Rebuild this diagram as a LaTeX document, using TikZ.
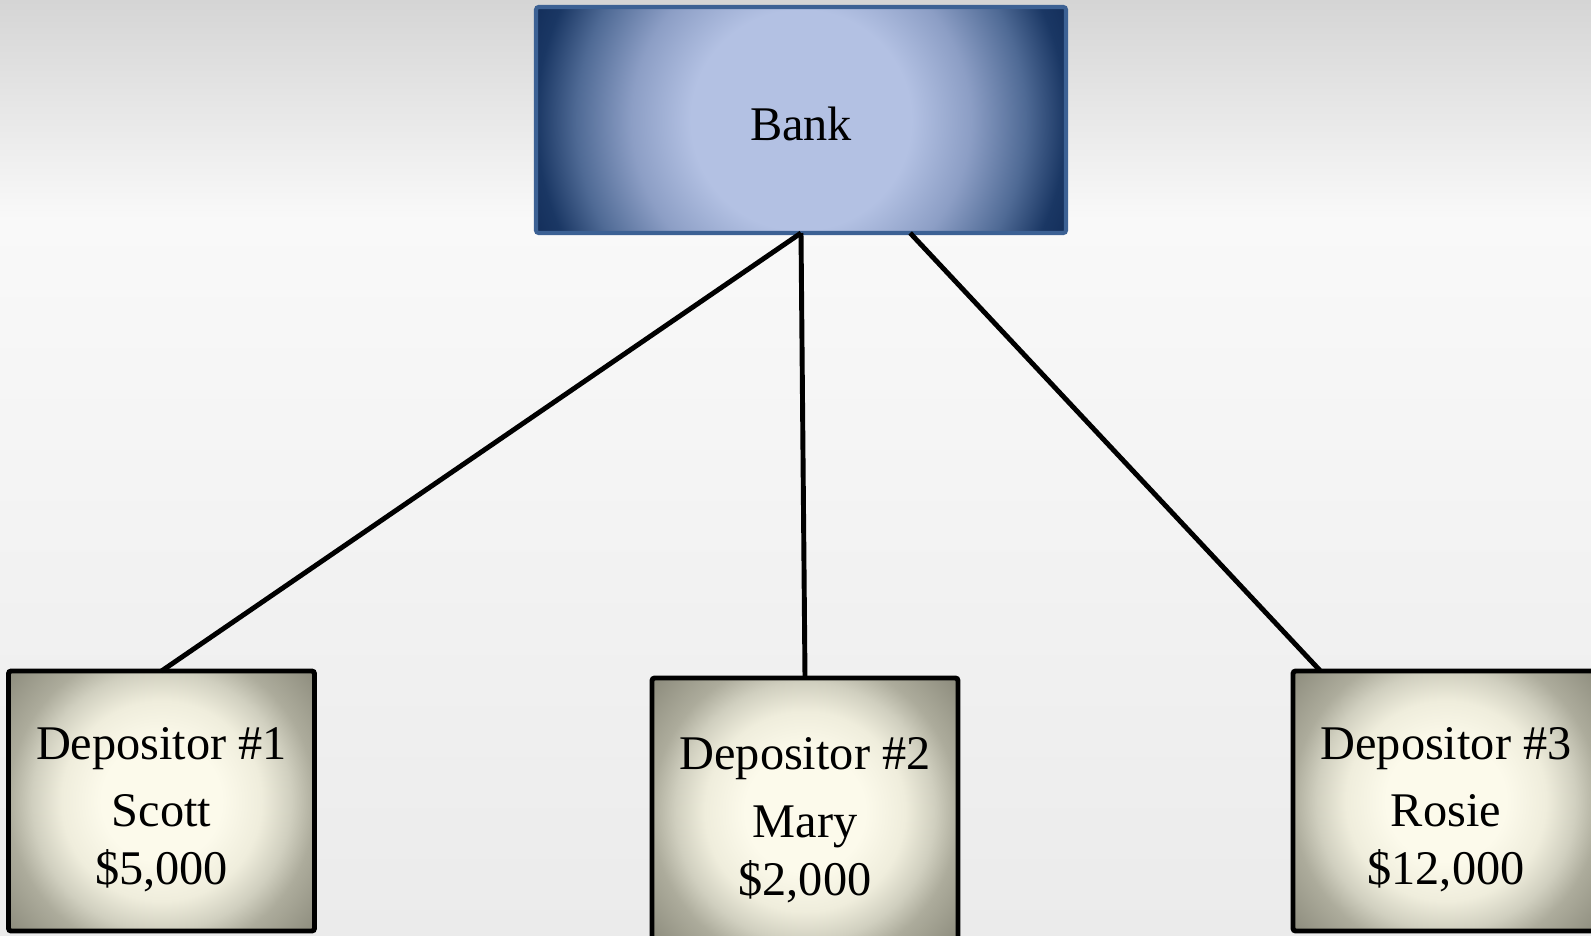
\documentclass[tikz,border=0pt]{standalone}
\usepackage{fontspec}
\setmainfont{Liberation Serif}
\usepackage{tikz}
\usepackage{xcolor}
\definecolor{bgtop}{HTML}{D5D5D5}
\definecolor{bglight}{HTML}{F9F9F9}
\definecolor{bgbot}{HTML}{EBEBEB}
\definecolor{banklight}{HTML}{B3C1E3}
\definecolor{bankmid}{HTML}{8C9EC5}
\definecolor{bankshade}{HTML}{4F6A95}
\definecolor{bankdark}{HTML}{1A3764}
\definecolor{bankdeep}{HTML}{112B57}
\definecolor{bankrim}{HTML}{3C6194}
\definecolor{depcream}{HTML}{FCFAEB}
\definecolor{depsoft}{HTML}{EFEDDC}
\definecolor{deptan}{HTML}{D0CFBF}
\definecolor{depgray}{HTML}{ADAC9C}
\definecolor{depdark}{HTML}{8D8C7D}
\pgfdeclareradialshading{bankglow}{\pgfpoint{0bp}{0bp}}{color(0bp)=(banklight); color(5.2bp)=(banklight); color(8bp)=(bankmid); color(10.6bp)=(bankshade); color(12.5bp)=(bankdark); color(14bp)=(bankdeep); color(50bp)=(bankdeep)}
\pgfdeclareradialshading{depglow}{\pgfpoint{0bp}{0bp}}{color(0bp)=(depcream); color(3.75bp)=(depcream); color(6.25bp)=(depsoft); color(8.1bp)=(deptan); color(9.6bp)=(depgray); color(12.5bp)=(depdark); color(50bp)=(depdark)}
\newcommand{\banklift}{\rule{0pt}{23.4pt}}
\newcommand{\deplift}{\rule{0pt}{28pt}}
\tikzset{
  bankbox/.style={draw=bankrim, line width=2.3pt, rectangle, rounded corners=1.5pt, inner sep=0pt, outer sep=0pt,
    minimum width=10.6cm, minimum height=4.52cm, align=center,
    path picture={\shade[shading=bankglow] (path picture bounding box.center) circle (10.6cm);}},
  depbox/.style={draw=black, line width=2.8pt, rectangle, rounded corners=1.5pt, inner sep=0pt, outer sep=0pt,
    minimum width=6.12cm, align=center,
    path picture={\shade[shading=depglow] (path picture bounding box.center) circle (8cm);}},
  link/.style={draw=black, line width=2.8pt}
}
\begin{document}
\begin{tikzpicture}[font=\fontsize{27.5}{33}\selectfont]
      \useasboundingbox (0,0) rectangle (31.82,-18.7);
      % backdrop
      \shade[top color=bgtop, bottom color=bglight] (0,0) rectangle (31.82,-4.4);
      \shade[top color=bglight, bottom color=bgbot] (0,-4.4) rectangle (31.82,-18.7);

      \node[bankbox] (bank) at (16.02,-2.40) {\banklift Bank};
      \node[depbox, minimum height=5.2cm] (dep1) at (3.23,-16.02) {\deplift Depositor \#1\\[5.5pt]Scott\\\$5,000};
      \node[depbox, minimum height=5.34cm] (dep2) at (16.10,-16.23) {\deplift Depositor \#2\\[5.5pt]Mary\\\$2,000};
      \node[depbox, minimum height=5.2cm] (dep3) at (28.92,-16.02) {\deplift Depositor \#3\\[5.5pt]Rosie\\\$12,000};

      \draw[link] (bank.south) -- (dep1.north);
      \draw[link] (bank.south) -- (dep2.north);
      \draw[link] (bank.-46) -- (dep3.134);
    \end{tikzpicture}
\end{document}
